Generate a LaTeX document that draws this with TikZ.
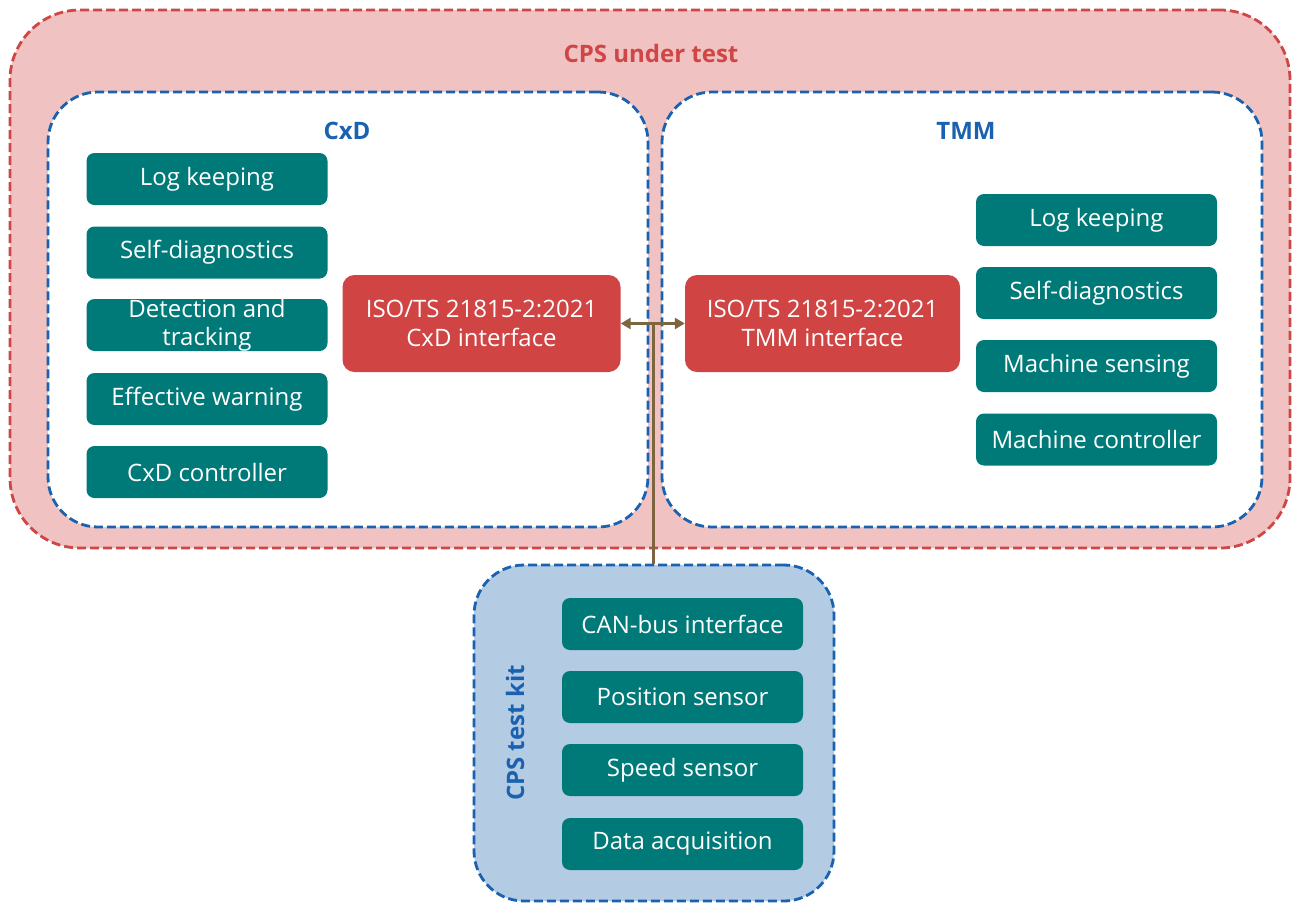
\documentclass[tikz,border=0pt]{standalone}
\usepackage{fontspec}
\setmainfont{Open Sans}
\usetikzlibrary{arrows.meta}
\definecolor{cpsred}{HTML}{D04545}
\definecolor{cpsfill}{HTML}{F0C2C2}
\definecolor{kitblue}{HTML}{1A62B0}
\definecolor{kitfill}{HTML}{B3CBE3}
\definecolor{teal}{HTML}{007A78}
\definecolor{ifred}{HTML}{D04444}
\definecolor{conn}{HTML}{7D6540}
\tikzset{
  dashline/.style={line width=2.8pt, dash pattern=on 9pt off 4pt},
  outerbox/.style={draw=cpsred, fill=cpsfill, dashline, rounded corners=70pt, minimum width=1280pt, minimum height=538pt},
  subbox/.style={draw=kitblue, fill=white, dashline, rounded corners=50pt, minimum width=600pt, minimum height=435pt},
  kitbox/.style={draw=kitblue, fill=kitfill, dashline, rounded corners=50pt, minimum width=360pt, minimum height=336pt},
  func/.style={fill=teal, text=white, rounded corners=8pt, minimum width=241pt, minimum height=52pt, inner sep=0pt, align=center, font=\fontsize{24}{28}\selectfont},
  iface/.style={fill=ifred, text=white, rounded corners=12pt, minimum width=278pt, minimum height=97pt, inner sep=0pt, align=center, font=\fontsize{24}{29}\selectfont},
  title/.style={font=\fontsize{24}{28}\selectfont\bfseries},
  link/.style={draw=conn, line width=3pt},
}
\begin{document}
\begin{tikzpicture}[x=1pt,y=-1pt]
\useasboundingbox (0,0) rectangle (1293,903);
\node[outerbox] (cps) at (650,279) {};
\node[subbox] (cxd) at (348,309.5) {};
\node[subbox] (tmm) at (962,309.5) {};
\node[kitbox] (kit) at (654,733) {};
\node[title, text=cpsred] (cpst) at (651,53) {CPS under test};
\node[title, text=kitblue] (cxdt) at (347,131) {CxD};
\node[title, text=kitblue] (tmmt) at (966,131) {TMM};
\node[title, text=kitblue, rotate=90] (kitt) at (515,733) {CPS test kit};
% CxD functions
\node[func] (c1) at (207,179) {Log keeping};
\node[func] (c2) at (207,252.5) {Self-diagnostics};
\node[func] (c3) at (207,325) {Detection and\\tracking};
\node[func] (c4) at (207,399) {Effective warning};
\node[func] (c5) at (207,472) {CxD controller};
% TMM functions
\node[func] (t1) at (1096.5,220) {Log keeping};
\node[func] (t2) at (1096.5,293) {Self-diagnostics};
\node[func] (t3) at (1096.5,366) {Machine sensing};
\node[func] (t4) at (1096.5,439.5) {Machine controller};
% kit functions
\node[func] (k1) at (682.5,624) {CAN-bus interface};
\node[func] (k2) at (682.5,697) {Position sensor};
\node[func] (k3) at (682.5,770) {Speed sensor};
\node[func] (k4) at (682.5,844) {Data acquisition};
% interfaces
\node[iface] (cif) at (481.5,323.5) {ISO/TS 21815-2:2021\\CxD interface};
\node[iface, minimum width=275pt] (tif) at (822.5,323.5) {ISO/TS 21815-2:2021\\TMM interface};
% connectors
\coordinate (jn) at (653,323.5);
\draw[link, {Triangle[length=10pt,width=11pt]}-{Triangle[length=10pt,width=11pt]}] (cif.east) -- (tif.west);
\draw[link] (jn) -- (jn |- kit.north);
\end{tikzpicture}
\end{document}
